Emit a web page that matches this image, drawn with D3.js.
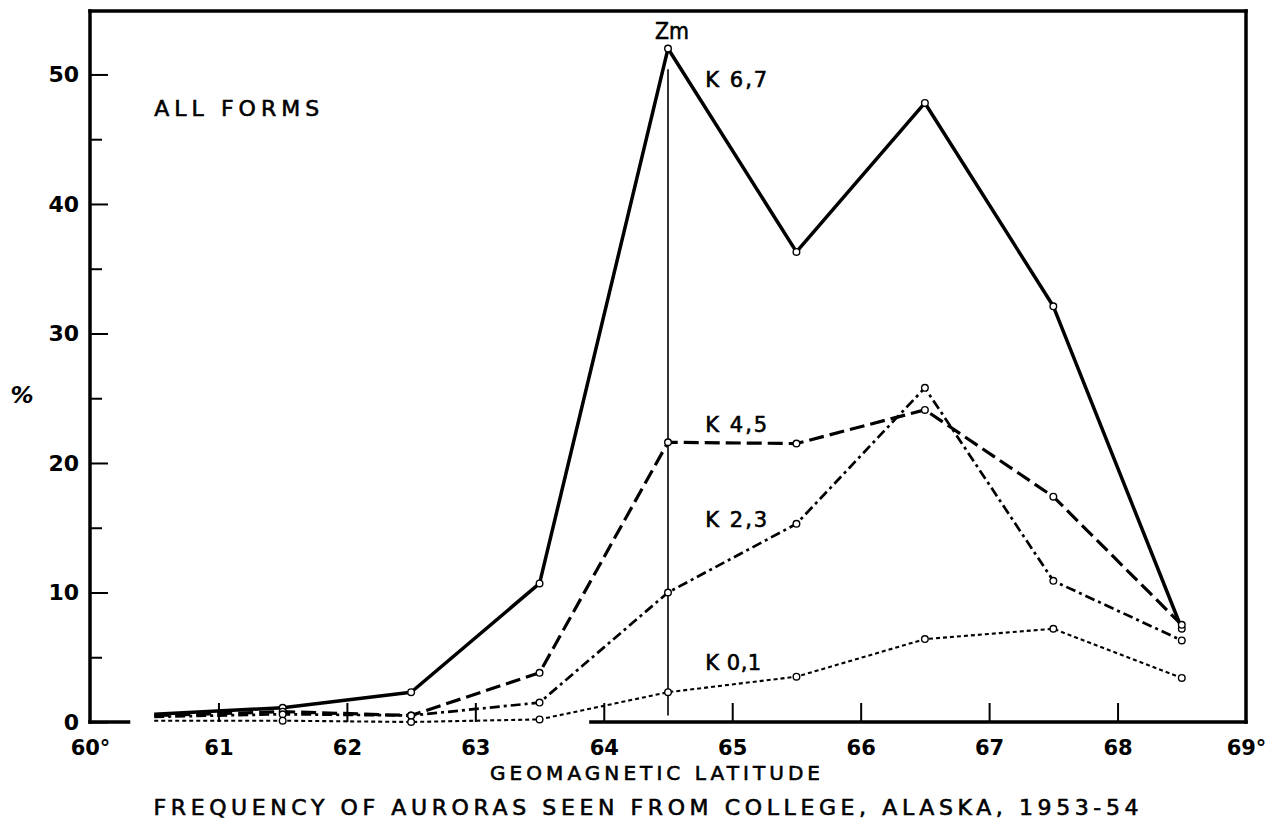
<!DOCTYPE html>
<html>
<head>
<meta charset="utf-8">
<script src="https://cdn.jsdelivr.net/npm/d3@7.9.0/dist/d3.min.js"></script>
<style>
  html, body { margin: 0; padding: 0; background: #fff; }
  svg { display: block; }
  text { font-family: "DejaVu Sans", "Liberation Sans", sans-serif; fill: #000; }
  .lettering { stroke: #000; stroke-width: 0.6px; }
</style>
</head>
<body>
<div id="chart"></div>
<script>
// ---------- Data ----------
const latitudes = [60.5, 61.5, 62.5, 63.5, 64.5, 65.5, 66.5, 67.5, 68.5];
const k67 = [0.6, 1.1, 2.3, 10.7, 52.0, 36.3, 47.8, 32.1, 7.2];
const k45 = [0.5, 0.8, 0.5, 3.8, 21.6, 21.5, 24.1, 17.4, 7.5];
const k23 = [0.4, 0.6, 0.5, 1.5, 10.0, 15.3, 25.8, 10.9, 6.3];
const k01 = [0.1, 0.1, 0.0, 0.2, 2.3, 3.5, 6.4, 7.2, 3.4];
const seriesNames = ["K 6,7", "K 4,5", "K 2,3", "K 0,1"];
const seriesValues = [k67, k45, k23, k01];

const xTicks = [60, 61, 62, 63, 64, 65, 66, 67, 68, 69];
const yTicks = [0, 10, 20, 30, 40, 50];
const yMinorTicks = [5, 15, 25, 35, 45];
const zmLatitude = 64.5;

const chartTitle = "FREQUENCY OF AURORAS SEEN FROM COLLEGE, ALASKA, 1953-54";
const xTitle = "GEOMAGNETIC LATITUDE";
const yTitle = "%";
const panelLabel = "ALL FORMS";

// ---------- Layout ----------
const width = 1288;
const height = 827;
const frame = { left: 90, right: 1246, top: 11, bottom: 722 };

const x = d3.scaleLinear().domain([60, 69]).range([frame.left, frame.right]);
const y = d3.scaleLinear().domain([0, 54.9]).range([frame.bottom, frame.top]);

// line looks per series, in seriesNames order
const styles = [
  { width: 3.5, dash: null },
  { width: 3.2, dash: "15,6" },
  { width: 2.7, dash: "10,4,3,4" },
  { width: 2.1, dash: "4,3" },
];

const svg = d3.select("#chart")
  .append("svg")
  .attr("width", width)
  .attr("height", height)
  .attr("viewBox", [0, 0, width, height]);

// ---------- Axes ----------
const yAxis = svg.append("g")
  .attr("transform", `translate(${frame.left},0)`)
  .call(d3.axisLeft(y).tickValues(yTicks).tickSize(-18).tickSizeOuter(0).tickPadding(11));
yAxis.select(".domain").remove();
yAxis.selectAll(".tick line").attr("stroke", "#000").attr("stroke-width", 2);
yAxis.selectAll(".tick text")
  .attr("font-size", 22).attr("font-weight", "bold")
  .attr("font-family", "DejaVu Sans");

const yMinor = svg.append("g")
  .attr("transform", `translate(${frame.left},0)`)
  .call(d3.axisLeft(y).tickValues(yMinorTicks).tickSize(-12).tickFormat(""));
yMinor.select(".domain").remove();
yMinor.selectAll(".tick line").attr("stroke", "#000").attr("stroke-width", 2);

const xAxis = svg.append("g")
  .attr("transform", `translate(0,${frame.bottom})`)
  .call(d3.axisBottom(x)
    .tickValues(xTicks)
    .tickSize(-19)
    .tickPadding(18)
    .tickFormat((d) => (d === 60 || d === 69 ? d + "°" : d)));
xAxis.select(".domain").remove();
xAxis.selectAll(".tick line")
  .attr("stroke", "#000").attr("stroke-width", 2)
  .attr("opacity", (d) => (d === 60 || d === 69 ? 0 : 1));
xAxis.selectAll(".tick text")
  .attr("font-size", 21).attr("font-weight", "bold")
  .attr("font-family", "DejaVu Sans");

// frame: left, top, right, and the bottom line (broken where the low curves sit on it)
const frameLines = [
  [[60, 0], [60, 54.9]],
  [[60, 54.9], [69, 54.9]],
  [[69, 54.9], [69, 0]],
  [[60, 0], [60.3, 0]],
  [[63.9, 0], [69, 0]],
];
svg.append("g")
  .selectAll("line")
  .data(frameLines)
  .join("line")
  .attr("x1", (d) => x(d[0][0]))
  .attr("y1", (d) => y(d[0][1]))
  .attr("x2", (d) => x(d[1][0]))
  .attr("y2", (d) => y(d[1][1]))
  .attr("stroke", "#000")
  .attr("stroke-width", 3.5)
  .attr("stroke-linecap", "square");

// ---------- Zm marker ----------
svg.append("line")
  .attr("x1", x(zmLatitude)).attr("x2", x(zmLatitude))
  .attr("y1", y(50.4)).attr("y2", y(0.5))
  .attr("stroke", "#000")
  .attr("stroke-width", 1.6);

svg.append("text")
  .attr("class", "lettering")
  .attr("x", x(zmLatitude) + 4)
  .attr("y", y(52.7))
  .attr("text-anchor", "middle")
  .attr("font-size", 23)
  .attr("textLength", 34)
  .attr("lengthAdjust", "spacingAndGlyphs")
  .text("Zm");

// ---------- Curves ----------
const line = d3.line()
  .x((d) => x(d[0]))
  .y((d) => y(d[1]));

const series = seriesNames.map((name, i) => ({
  name,
  points: latitudes.map((lat, j) => [lat, seriesValues[i][j]]),
  style: styles[i],
}));

// draw weakest first so the heavy curve stays on top
const curves = svg.append("g");
series.slice().reverse().forEach((s) => {
  curves.append("path")
    .attr("d", line(s.points))
    .attr("fill", "none")
    .attr("stroke", "#000")
    .attr("stroke-width", s.style.width)
    .attr("stroke-dasharray", s.style.dash)
    .attr("stroke-linejoin", "round");
});

series.forEach((s) => {
  curves.append("g")
    .selectAll("circle")
    .data(s.points.slice(1))
    .join("circle")
    .attr("cx", (d) => x(d[0]))
    .attr("cy", (d) => y(d[1]))
    .attr("r", 3.3)
    .attr("fill", "#fff")
    .attr("stroke", "#000")
    .attr("stroke-width", 1.4);
});

// ---------- Labels ----------
const seriesLabelSpots = [
  [64.79, 49.0],
  [64.79, 22.4],
  [64.79, 15.05],
  [64.79, 4.0],
];
svg.append("g")
  .selectAll("text")
  .data(seriesNames)
  .join("text")
  .attr("class", "lettering")
  .attr("x", (d, i) => x(seriesLabelSpots[i][0]))
  .attr("y", (d, i) => y(seriesLabelSpots[i][1]))
  .attr("font-size", 21)
  .attr("textLength", (d, i) => (i === 3 ? 56 : 62))
  .attr("lengthAdjust", "spacing")
  .text((d) => d);

svg.append("text")
  .attr("class", "lettering")
  .attr("x", x(60.5))
  .attr("y", y(46.8))
  .attr("font-size", 22)
  .attr("textLength", 165)
  .attr("lengthAdjust", "spacing")
  .text(panelLabel);

svg.append("text")
  .attr("x", 22)
  .attr("y", y(24.6))
  .attr("text-anchor", "middle")
  .attr("font-size", 23)
  .attr("font-weight", "bold")
  .attr("font-style", "italic")
  .text(yTitle);

svg.append("text")
  .attr("class", "lettering")
  .attr("x", 655)
  .attr("y", 780)
  .attr("text-anchor", "middle")
  .attr("font-size", 20)
  .attr("textLength", 330)
  .attr("lengthAdjust", "spacing")
  .text(xTitle);

svg.append("text")
  .attr("class", "lettering")
  .attr("x", 646)
  .attr("y", 815)
  .attr("text-anchor", "middle")
  .attr("font-size", 22)
  .attr("textLength", 985)
  .attr("lengthAdjust", "spacing")
  .text(chartTitle);
</script>
</body>
</html>
